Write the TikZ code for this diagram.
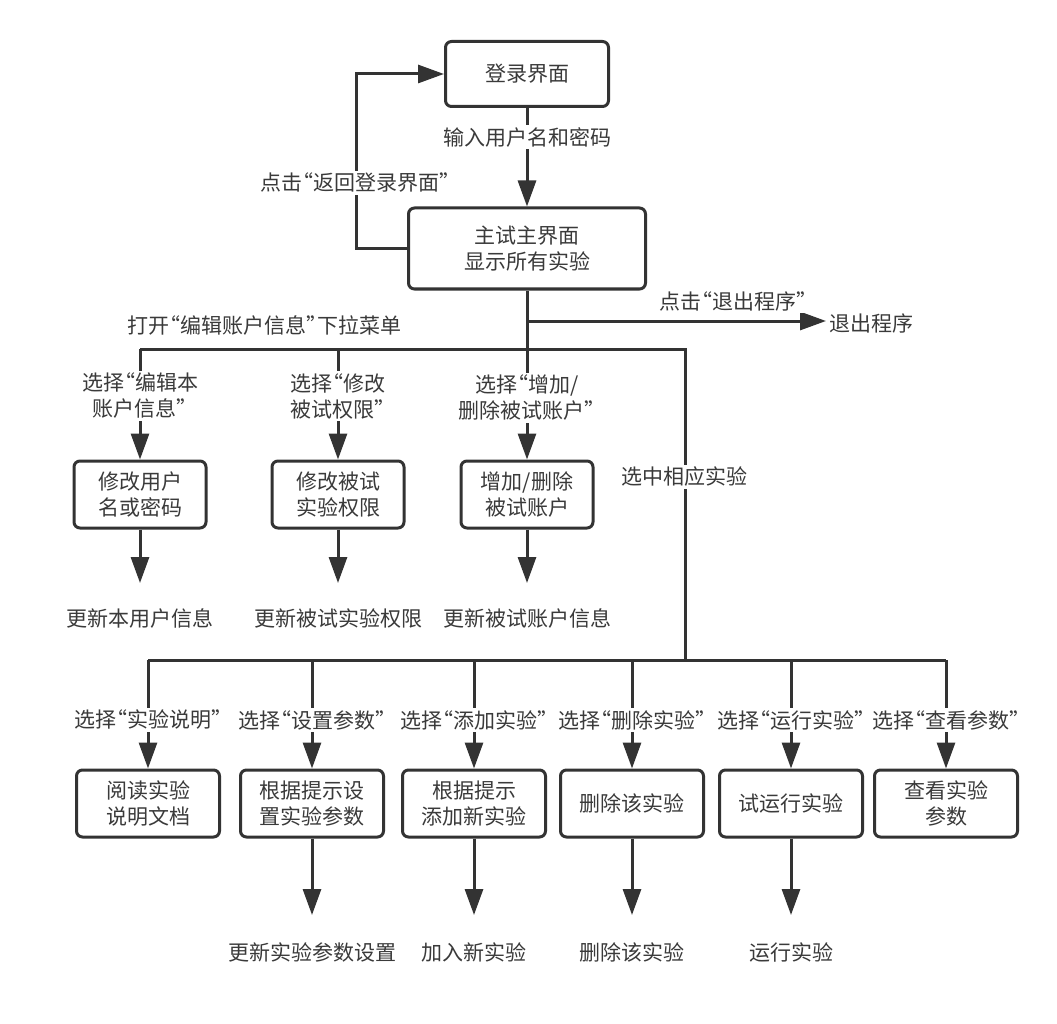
\documentclass[tikz,border=0pt]{standalone}
\usepackage{fontspec}
\setmainfont{Noto Sans CJK SC}
\usetikzlibrary{arrows.meta}
\definecolor{ink}{HTML}{333333}
\definecolor{txt}{HTML}{3A3A3A}
\newcommand\openq{\makebox[11pt][r]{“}}
\newcommand\closeq{\makebox[11pt][l]{”}}
\begin{document}
\begin{tikzpicture}[x=1pt,y=-1pt,
  every node/.style={font=\fontsize{21}{26}\selectfont, text=txt, align=center},
  box/.style={draw=ink, line width=3pt, rounded corners=6pt, fill=white, inner sep=2pt},
  bsmall/.style={box, minimum width=132pt, minimum height=67pt},
  bwide/.style={box, minimum width=143pt, minimum height=67pt},
  conn/.style={draw=ink, line width=3pt},
  arr/.style={conn, -{Triangle[length=26pt,width=18pt]}},
  lbl/.style={fill=white, inner sep=2pt},
  plain/.style={inner sep=3pt}
]
\useasboundingbox (0,0) rectangle (1057,1024);
\fill[white] (0,0) rectangle (1057,1024);

% boxes
\node[box, minimum width=163pt, minimum height=65pt] (login) at (527,74) {登录界面};
\node[box, minimum width=237pt, minimum height=81pt] (main) at (527,248.5) {主试主界面\\显示所有实验};
\node[plain, anchor=west] (exit) at (826,323) {退出程序};

\node[bsmall] (a1) at (140,494.5) {修改用户\\名或密码};
\node[bsmall] (a2) at (338,494.5) {修改被试\\实验权限};
\node[bsmall] (a3) at (527,494.5) {增加/删除\\被试账户};

\node[plain] (ra1) at (140,618) {更新本用户信息};
\node[plain] (ra2) at (338,618) {更新被试实验权限};
\node[plain] (ra3) at (527,618) {更新被试账户信息};

\node[bwide] (c1) at (148,803.5) {阅读实验\\说明文档};
\node[bwide] (c2) at (312,803.5) {根据提示设\\置实验参数};
\node[bwide] (c3) at (474,803.5) {根据提示\\添加新实验};
\node[bwide] (c4) at (632,803.5) {删除该实验};
\node[bwide] (c5) at (791,803.5) {试运行实验};
\node[bwide] (c6) at (946,803.5) {查看实验\\参数};

\node[plain] (rc2) at (312,952) {更新实验参数设置};
\node[plain] (rc3) at (474,952) {加入新实验};
\node[plain] (rc4) at (632,952) {删除该实验};
\node[plain] (rc5) at (791,952) {运行实验};

% junction coordinates
\coordinate (j1) at (527,321);
\coordinate (j2) at (527,349);
\coordinate (b1) at (140,349);
\coordinate (b2) at (338,349);
\coordinate (b4) at (685,349);
\coordinate (k0) at (685,660);
\coordinate (d1) at (148,660);
\coordinate (d2) at (312,660);
\coordinate (d3) at (474,660);
\coordinate (d4) at (632,660);
\coordinate (d5) at (791,660);
\coordinate (d6) at (946,660);
\coordinate (ta1) at (140,583);
\coordinate (ta2) at (338,583);
\coordinate (ta3) at (527,583);
\coordinate (tc2) at (312,915);
\coordinate (tc3) at (474,915);
\coordinate (tc4) at (632,915);
\coordinate (tc5) at (791,915);

% connectors
\draw[arr] (login) -- (main);
\draw[arr] (main.west) -- ++(-51,0) |- (login.west);
\draw[conn] (main.south) -- (j2);
\draw[arr] (j1) -- (j1 -| exit.west);
\draw[conn] (b1) -- (b4) -- (k0);
\draw[conn] (d1) -- (d6);
\draw[arr] (b1) -- (a1);
\draw[arr] (b2) -- (a2);
\draw[arr] (j2) -- (a3);
\draw[arr] (a1) -- (ta1);
\draw[arr] (a2) -- (ta2);
\draw[arr] (a3) -- (ta3);
\draw[arr] (d1) -- (c1);
\draw[arr] (d2) -- (c2);
\draw[arr] (d3) -- (c3);
\draw[arr] (d4) -- (c4);
\draw[arr] (d5) -- (c5);
\draw[arr] (d6) -- (c6);
\draw[arr] (c2) -- (tc2);
\draw[arr] (c3) -- (tc3);
\draw[arr] (c4) -- (tc4);
\draw[arr] (c5) -- (tc5);

% labels
\node[lbl] (l1) at (527,137) {输入用户名和密码};
\node[lbl] (l2) at (355,183) {点击\openq 返回登录界面\closeq};
\node[lbl] (l3) at (733,301) {点击\openq 退出程序\closeq};
\node[lbl] (l4) at (264,325) {打开\openq 编辑账户信息\closeq 下拉菜单};
\node[lbl] (l5) at (140,396) {选择\openq 编辑本\\账户信息\closeq};
\node[lbl] (l6) at (338,396) {选择\openq 修改\\被试权限\closeq};
\node[lbl] (l7) at (527,398) {选择\openq 增加/\\删除被试账户\closeq};
\node[lbl] (l8) at (684,477) {选中相应实验};
\node[lbl] (m1) at (148,720) {选择\openq 实验说明\closeq};
\node[lbl] (m2) at (312,720) {选择\openq 设置参数\closeq};
\node[lbl] (m3) at (474,720) {选择\openq 添加实验\closeq};
\node[lbl] (m4) at (632,720) {选择\openq 删除实验\closeq};
\node[lbl] (m5) at (791,720) {选择\openq 运行实验\closeq};
\node[lbl] (m6) at (946,720) {选择\openq 查看参数\closeq};
\end{tikzpicture}
\end{document}
